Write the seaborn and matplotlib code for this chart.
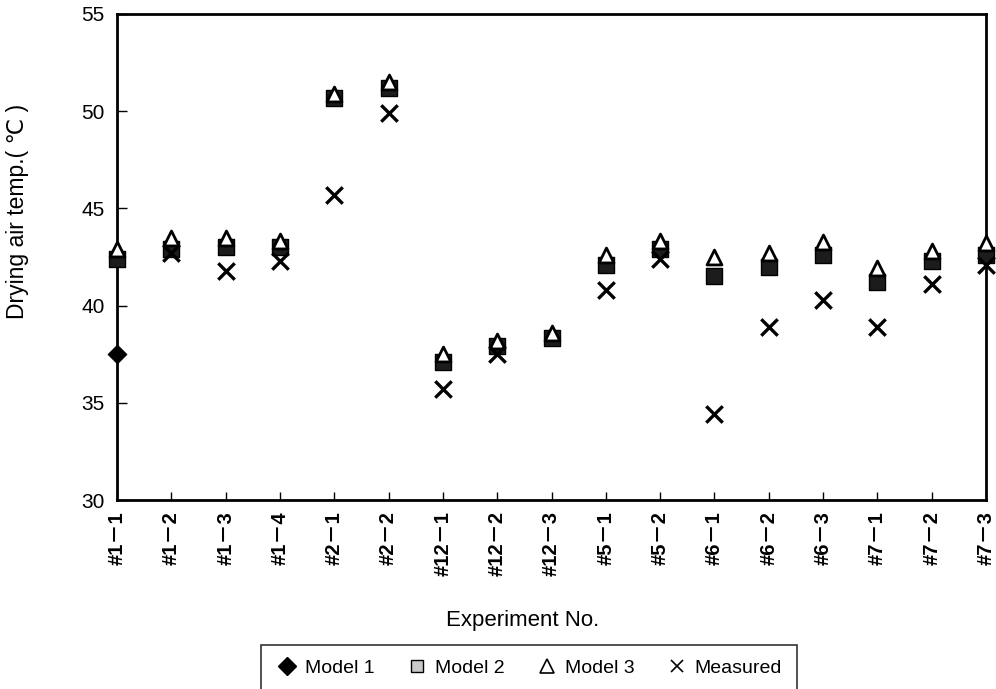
import numpy as np
import pandas as pd
import matplotlib
matplotlib.use("Agg")
import matplotlib.pyplot as plt
import seaborn as sns
from matplotlib.lines import Line2D

experiments = ["#1－1", "#1－2", "#1－3", "#1－4", "#2－1", "#2－2",
               "#12－1", "#12－2", "#12－3", "#5－1", "#5－2", "#6－1",
               "#6－2", "#6－3", "#7－1", "#7－2", "#7－3"]
model1 = [37.5] + [np.nan] * 16
model2 = [42.4, 42.9, 43.0, 43.0, 50.7, 51.2, 37.1, 37.9, 38.35, 42.1,
          42.9, 41.5, 42.0, 42.6, 41.2, 42.3, 42.6]
model3 = [42.9, 43.5, 43.5, 43.3, 50.9, 51.5, 37.5, 38.2, 38.6, 42.6,
          43.3, 42.5, 42.7, 43.25, 41.95, 42.8, 43.2]
measured = [np.nan, 42.7, 41.8, 42.3, 45.7, 49.9, 35.7, 37.5, np.nan, 40.8,
            42.4, 34.4, 38.9, 40.3, 38.9, 41.1, 42.1]
y_ticks = [30, 35, 40, 45, 50, 55]

sns.set_style("ticks")
plt.rcParams["font.family"] = ["Liberation Sans", "DejaVu Sans", "Noto Sans CJK JP"]
plt.rcParams["text.color"] = "black"
plt.rcParams["axes.labelcolor"] = "black"

df = pd.DataFrame({"exp": experiments, "idx": np.arange(len(experiments)),
                   "Model 1": model1, "Model 2": model2,
                   "Model 3": model3, "Measured": measured})

fig = plt.figure(figsize=(9.96, 6.89), dpi=100)
ax = fig.add_axes([0.1175, 0.2743, 0.8725, 0.7054])

sns.scatterplot(data=df, x="idx", y="Model 1", marker="D", s=90,
                color="black", edgecolor="black", ax=ax, zorder=3, clip_on=False)
sns.scatterplot(data=df, x="idx", y="Model 2", marker="s", s=140,
                color="#1c1c1c", edgecolor="black", linewidth=1, ax=ax, zorder=3, clip_on=False)
sns.scatterplot(data=df, x="idx", y="Model 3", marker="^", s=115,
                color="white", edgecolor="black", linewidth=2, ax=ax, zorder=4, clip_on=False)
sns.scatterplot(data=df, x="idx", y="Measured", marker="x", s=140,
                color="black", linewidth=2.4, ax=ax, zorder=5, clip_on=False)

ax.set_xlim(0, len(experiments) - 1)
ax.set_ylim(30, 55)
ax.set_yticks(y_ticks)
ax.set_xticks(np.arange(len(experiments)))
ax.set_xticklabels(experiments, rotation=90, fontsize=14.5, fontweight="bold",
                   family=["Liberation Sans", "Noto Sans CJK JP", "DejaVu Sans"])
ax.tick_params(axis="x", direction="in", length=6, width=1, pad=8, colors="black")
ax.tick_params(axis="y", direction="in", length=7, width=1, labelsize=15, pad=9, colors="black")
for sp in ax.spines.values():
    sp.set_visible(True)
    sp.set_linewidth(2)
    sp.set_color("black")

ax.set_xlabel("Experiment No.", fontsize=16)
ax.xaxis.set_label_coords(0.467, -0.226)
ax.set_ylabel("Drying air temp.( ℃ )", fontsize=16.5)
ax.yaxis.set_label_coords(-0.101, 0.593)

handles = [
    Line2D([], [], marker="D", linestyle="none", color="black", markersize=9),
    Line2D([], [], marker="s", linestyle="none", markerfacecolor="#c8c8c8",
           markeredgecolor="black", markersize=9),
    Line2D([], [], marker="^", linestyle="none", markerfacecolor="white",
           markeredgecolor="black", markersize=10, markeredgewidth=1.2),
    Line2D([], [], marker="x", linestyle="none", color="black", markersize=9,
           markeredgewidth=1.2),
]
leg = fig.legend(handles, ["Model 1", "Model 2", "Model 3", "Measured"],
                 loc="upper center", bbox_to_anchor=(0.531, 1 - 645 / 689),
                 ncol=4, fontsize=14, frameon=True, fancybox=False,
                 edgecolor="black", handletextpad=0.3, columnspacing=1.6,
                 borderpad=0.75, handlelength=1.2, borderaxespad=0)
leg.get_frame().set_linewidth(1.2)

fig.savefig("out.png", dpi=100)
